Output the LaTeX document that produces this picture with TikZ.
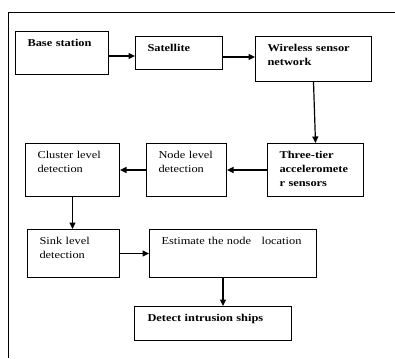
\documentclass[tikz,border=0pt]{standalone}
\usepackage{fontspec}
\setmainfont{Liberation Serif}[FakeStretch=1.18]
\usetikzlibrary{arrows.meta}

\begin{document}
\begin{tikzpicture}[x=1pt, y=-1pt,
  box/.style={draw, line width=1pt, anchor=north west, align=left,
    inner xsep=12pt, inner ysep=7pt, text height=8pt,
    font=\fontsize{10.5}{14}\selectfont},
  arr/.style={line width=1.2pt, -{Triangle[length=6.5pt,width=6pt]}}]
\useasboundingbox (0,0) rectangle (395,358);

% frame
\draw[line width=0.9pt] (8,358)--(8,12)--(395,12);

% boxes
\node[box, text width=69pt, text depth=21pt] (base) at (15,31) {\textbf{Base station}};
\node[box, text width=63pt, text depth=11pt] (sat) at (135,36) {\textbf{Satellite}};
\node[box, text width=92pt, text depth=23pt] (wsn) at (255,36) {\textbf{Wireless sensor}\\\textbf{network}};
\node[box, text width=72pt, text depth=31pt] (tier) at (267,143) {\textbf{Three-tier}\\\textbf{acceleromete}\\\textbf{r sensors}};
\node[box, text width=56pt, text depth=31pt] (nodelvl) at (146,143) {Node level\\detection};
\node[box, text width=70pt, text depth=31pt] (cluster) at (25,143) {Cluster level\\detection};
\node[box, text width=68pt, text depth=26pt] (sink) at (27,229) {Sink level\\detection};
\node[box, text width=143pt, text depth=26pt] (est) at (149,229) {Estimate the node \ \ location};
\node[box, text width=131pt, text depth=12pt, inner xsep=13pt] (detect) at (134,306) {\textbf{Detect intrusion ships}};

% arrows
\draw[arr] ([yshift=-3pt]base.east) -- ([yshift=-3pt]base.east -| sat.west);
\draw[arr] ([yshift=-4pt]sat.east) -- ([yshift=-4pt]sat.east -| wsn.west);
\draw[arr] (wsn.south) -- (tier.north);
\draw[arr] (tier.west) -- (nodelvl.east);
\draw[arr] (nodelvl.west) -- (cluster.east);
\draw[arr] (cluster.south) -- (cluster.south |- sink.north);
\draw[arr] (sink.east) -- (est.west);
\draw[arr] ([xshift=-10pt]est.south) -- ([xshift=-10pt]est.south |- detect.north);

\end{tikzpicture}
\end{document}
